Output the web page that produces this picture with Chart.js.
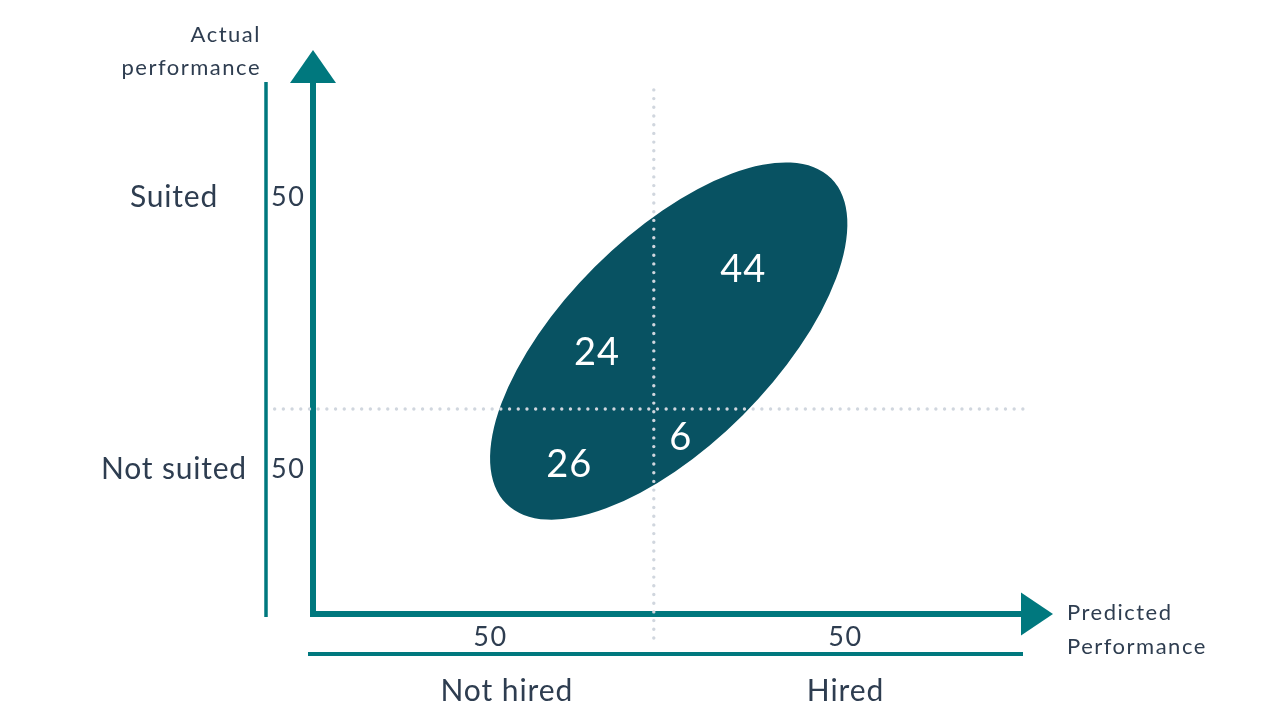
<!DOCTYPE html>
<html>
<head>
<meta charset="utf-8">
<script src="https://cdn.jsdelivr.net/npm/chart.js@4/dist/chart.umd.min.js"></script>
<style>
  html, body { margin: 0; padding: 0; background: #ffffff; }
  #c { display: block; }
</style>
</head>
<body>
<canvas id="c" width="1280" height="720"></canvas>
<script>
// ---------- data ----------
const xCategories = ['Not hired', 'Hired'];
const yCategories = ['Not suited', 'Suited'];
const xTotals = [50, 50];
const yTotals = [50, 50];
// cells: [not suited & not hired, not suited & hired, suited & not hired, suited & hired]
const cellValues = [26, 6, 24, 44];
const xAxisTitle = ['Predicted', 'Performance'];
const yAxisTitle = ['Actual', 'performance'];
const xSplit = 48;
const ySplit = 38.6;

// ---------- layout (data units on the 0-100 scales) ----------
const cellAnchors = [[36.1, 28.2], [51.8, 33.1], [40.0, 49.2], [60.6, 64.8]];
const xLabelAnchors = [25, 75];
const xCatAnchors = [27.3, 75];
const yLabelAnchors = [27.3, 78.5];
const blobCenter = { x: 50.1, y: 51.4 };
const blobMajorEnd = { x: 73.0, y: 82.0 };
const blobMinorEnd = { x: 39.7, y: 65.4 };

const TEAL = '#00787E';
const BLOB = '#085262';
const TEXT = '#2E3D50';
const DOT = '#D0D6DE';
const FONT = 'Lato, "Open Sans", sans-serif';

function setFont(ctx, size, spacing) {
  ctx.font = `${size}px ${FONT}`;
  if ('letterSpacing' in ctx) ctx.letterSpacing = spacing + 'px';
}

const decor = {
  id: 'decor',
  beforeDatasetsDraw(chart) {
    const { ctx, chartArea: a, scales: { x, y } } = chart;
    ctx.save();
    // blob (rotated ellipse through scale coordinates)
    const cx = x.getPixelForValue(blobCenter.x), cy = y.getPixelForValue(blobCenter.y);
    const mx = x.getPixelForValue(blobMajorEnd.x) - cx, my = y.getPixelForValue(blobMajorEnd.y) - cy;
    const nx = x.getPixelForValue(blobMinorEnd.x) - cx, ny = y.getPixelForValue(blobMinorEnd.y) - cy;
    ctx.fillStyle = BLOB;
    ctx.beginPath();
    ctx.ellipse(cx, cy, Math.hypot(mx, my), Math.hypot(nx, ny), Math.atan2(my, mx), 0, Math.PI * 2);
    ctx.fill();

    // axes
    ctx.strokeStyle = TEAL;
    ctx.lineWidth = 6;
    ctx.lineJoin = 'miter';
    ctx.lineCap = 'butt';
    ctx.beginPath();
    ctx.moveTo(a.left, a.top);
    ctx.lineTo(a.left, a.bottom);
    ctx.lineTo(a.right - 2, a.bottom);
    ctx.stroke();
    ctx.fillStyle = TEAL;
    ctx.beginPath();
    ctx.moveTo(a.left, a.top - 33);
    ctx.lineTo(a.left - 23, a.top);
    ctx.lineTo(a.left + 23, a.top);
    ctx.closePath();
    ctx.fill();
    ctx.beginPath();
    ctx.moveTo(a.right + 30, a.bottom);
    ctx.lineTo(a.right - 2, a.bottom - 21.5);
    ctx.lineTo(a.right - 2, a.bottom + 21.5);
    ctx.closePath();
    ctx.fill();

    // bracket lines
    ctx.lineWidth = 3.5;
    ctx.beginPath();
    ctx.moveTo(a.left - 47, a.top - 1);
    ctx.lineTo(a.left - 47, a.bottom + 3);
    ctx.stroke();
    ctx.lineWidth = 4;
    ctx.beginPath();
    ctx.moveTo(a.left - 5, a.bottom + 40);
    ctx.lineTo(a.right, a.bottom + 40);
    ctx.stroke();
    ctx.restore();
  },
  afterDatasetsDraw(chart) {
    const { ctx, chartArea: a, scales: { x, y } } = chart;
    ctx.save();
    ctx.textBaseline = 'middle';
    // cell values
    ctx.fillStyle = '#ffffff';
    setFont(ctx, 38, 1);
    ctx.textAlign = 'center';
    cellValues.forEach((v, i) => {
      ctx.fillText(String(v), x.getPixelForValue(cellAnchors[i][0]), y.getPixelForValue(cellAnchors[i][1]));
    });

    ctx.fillStyle = TEXT;
    // y categories and totals
    yCategories.forEach((c, i) => {
      const py = y.getPixelForValue(yLabelAnchors[i]);
      setFont(ctx, 30, 0.8);
      ctx.textAlign = 'center';
      ctx.fillText(c, a.left - 139, py);
      setFont(ctx, 27, 1.5);
      ctx.textAlign = 'left';
      ctx.fillText(String(yTotals[i]), a.left - 42, py);
    });
    // x totals and categories
    xCategories.forEach((c, i) => {
      ctx.textAlign = 'center';
      setFont(ctx, 27, 1.5);
      ctx.fillText(String(xTotals[i]), x.getPixelForValue(xLabelAnchors[i]), a.bottom + 23);
      setFont(ctx, 30, 0.9);
      ctx.fillText(c, x.getPixelForValue(xCatAnchors[i]), a.bottom + 77);
    });
    // axis titles
    setFont(ctx, 22, 1.5);
    ctx.textAlign = 'right';
    ctx.fillText(yAxisTitle[0], a.left - 52, 35);
    ctx.fillText(yAxisTitle[1], a.left - 52, 68);
    ctx.textAlign = 'left';
    ctx.fillText(xAxisTitle[0], a.right + 44, a.bottom - 1);
    ctx.fillText(xAxisTitle[1], a.right + 44, a.bottom + 33);
    ctx.restore();
  }
};

const dotted = {
  showLine: true,
  pointRadius: 0,
  borderColor: DOT,
  borderWidth: 3.4,
  borderDash: [0, 8.7],
  borderCapStyle: 'round',
  clip: false,
  fill: false
};

new Chart(document.getElementById('c'), {
  type: 'scatter',
  data: {
    datasets: [
      Object.assign({ label: 'split-x', data: [{ x: xSplit, y: 98.7 }, { x: xSplit, y: -5.3 }] }, dotted),
      Object.assign({ label: 'split-y', data: [{ x: -5.4, y: ySplit }, { x: 100.3, y: ySplit }] }, dotted)
    ]
  },
  options: {
    responsive: false,
    animation: false,
    devicePixelRatio: 1,
    layout: { padding: { left: 313, right: 257, top: 83, bottom: 106 } },
    scales: {
      x: { type: 'linear', min: 0, max: 100, display: false },
      y: { type: 'linear', min: 0, max: 100, display: false }
    },
    plugins: { legend: { display: false }, tooltip: { enabled: false } },
    events: []
  },
  plugins: [decor]
});
</script>
</body>
</html>
